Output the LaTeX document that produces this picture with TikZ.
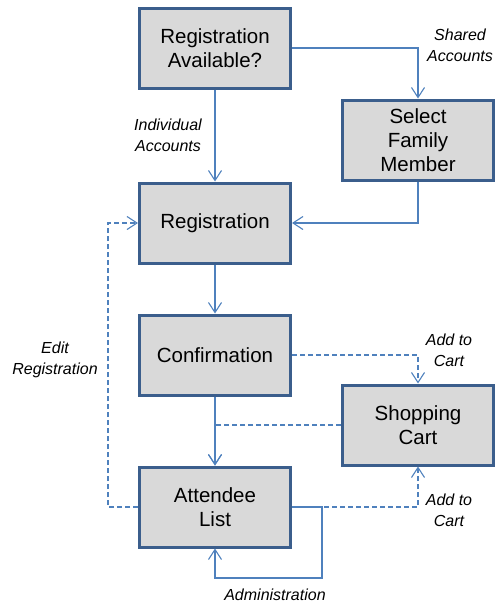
\documentclass[tikz,border=0pt]{standalone}
\usepackage{fontspec}
\setmainfont{Liberation Sans}
\usetikzlibrary{arrows.meta}
\definecolor{boxedge}{HTML}{3B5E8C}
\definecolor{boxfill}{HTML}{D9D9D9}
\definecolor{linkblue}{HTML}{4F81BD}

\begin{document}
\begin{tikzpicture}[x=1pt, y=-1pt,
	stage/.style={draw=boxedge, line width=3pt, fill=boxfill, minimum width=151pt, minimum height=80pt, align=center, font=\fontsize{20.5}{24}\selectfont},
	flow/.style={draw=linkblue, line width=1.1pt, -{Straight Barb[length=10pt,width=13pt]}},
	optional/.style={flow, dash pattern=on 5pt off 3pt},
	note/.style={font=\fontsize{16}{21}\selectfont\itshape, align=center}]
	\useasboundingbox (0,0) rectangle (495,605);
	\node[stage] (avail) at (215,48) {Registration\\Available?};
	\node[stage] (select) at (418,140) {Select\\Family\\Member};
	\node[stage] (reg) at (215,223) {Registration};
	\node[stage] (conf) at (215,355) {Confirmation};
	\node[stage] (cart) at (418,425) {Shopping\\Cart};
	\node[stage] (att) at (215,507) {Attendee\\List};
	\draw[flow] (avail) -- (reg);
	\draw[flow] (avail) -| (select);
	\draw[flow] (select) |- (reg);
	\draw[flow] (reg) -- (conf);
	\draw[flow] (conf) -- (att);
	\draw[optional] (conf) -| (cart);
	\draw[optional] (cart) -| (att);
	\draw[optional] (att.west) -- ++(-30,0) |- (reg.west);
	\draw[optional] (att) -| (cart);
	\draw[flow] (att.east) -- ++(30,0) -- ++(0,71) -| (att.south);
	\node[note] (individual) at (168,135) {Individual\\Accounts};
	\node[note] (shared) at (460,45) {Shared\\Accounts};
	\node[note] (addtop) at (449,350) {Add to\\Cart};
	\node[note] (edit) at (55,360) {Edit\\Registration};
	\node[note] (addlow) at (449,510) {Add to\\Cart};
	\node[note] (admin) at (275,595) {Administration};
\end{tikzpicture}
\end{document}
